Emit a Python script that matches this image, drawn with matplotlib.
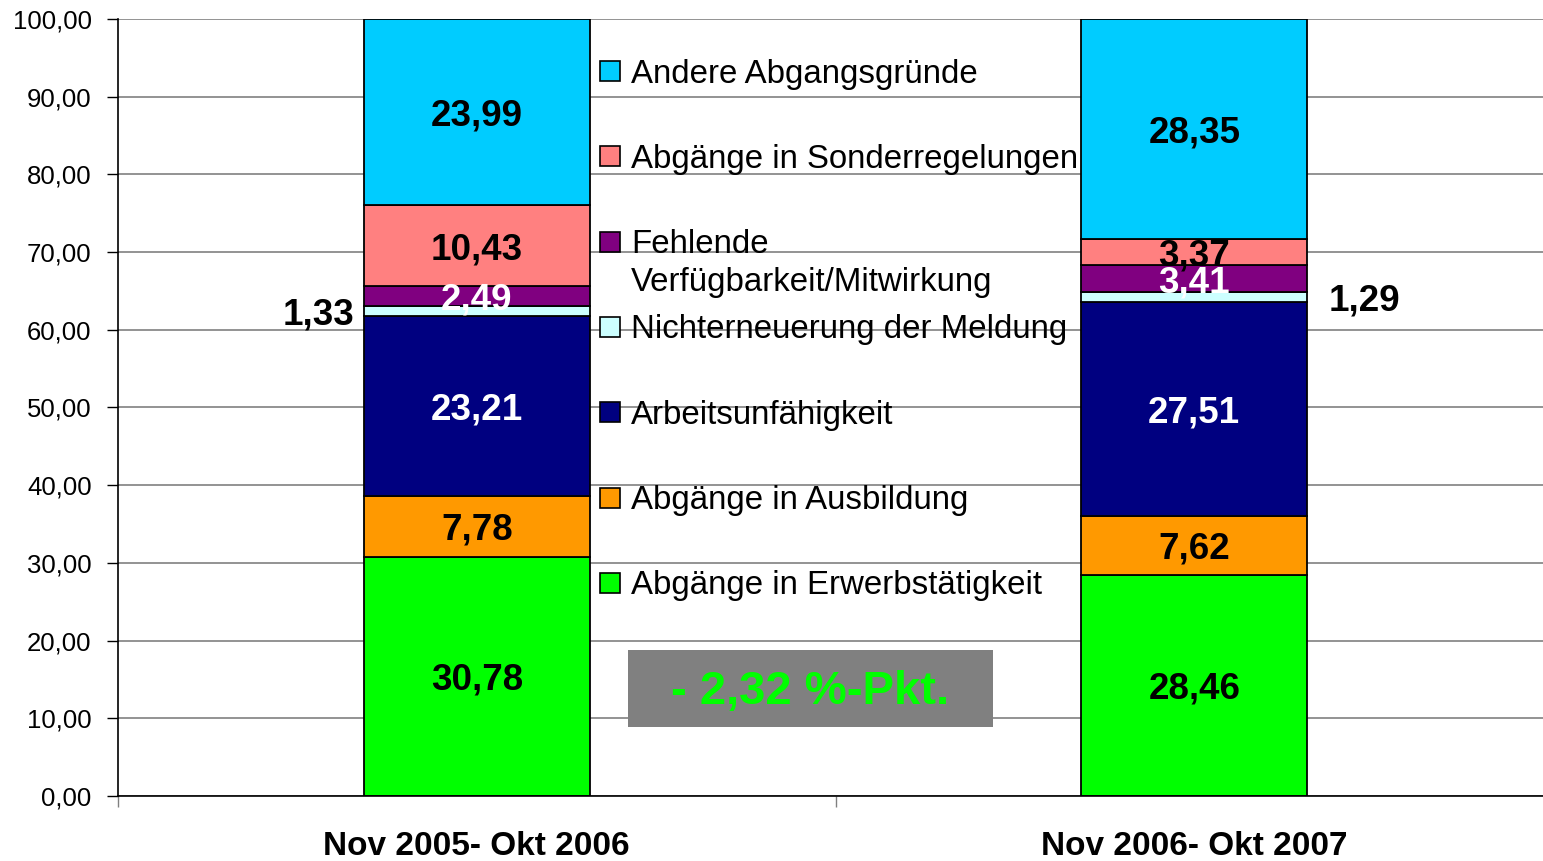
import numpy as np
import matplotlib.pyplot as plt
from matplotlib.patches import Rectangle
from matplotlib.ticker import FuncFormatter

plt.rcParams['font.family'] = ['Liberation Sans', 'DejaVu Sans']

periods = ['Nov 2005- Okt 2006', 'Nov 2006- Okt 2007']
reasons = ['Abgänge in Erwerbstätigkeit', 'Abgänge in Ausbildung', 'Arbeitsunfähigkeit',
           'Nichterneuerung der Meldung', 'Fehlende\nVerfügbarkeit/Mitwirkung',
           'Abgänge in Sonderregelungen', 'Andere Abgangsgründe']
share_2006 = [30.78, 7.78, 23.21, 1.33, 2.49, 10.43, 23.99]
share_2007 = [28.46, 7.62, 27.51, 1.29, 3.41, 3.37, 28.35]
colors = ['#00FF00', '#FF9900', '#000080', '#CCFFFF', '#800080', '#FF8080', '#00CCFF']
label_colors = ['black', 'black', 'white', 'black', 'white', 'black', 'black']
diff_text = '- 2,32 %-Pkt.'

W, H = 1543, 861
AX_W = 1435  # plot area runs a bit past the right edge of the picture
fig = plt.figure(figsize=(W / 100, H / 100), dpi=100)
ax = fig.add_axes([118 / W, 65 / H, AX_W / W, 777 / H])

x = np.arange(len(periods))
width = 0.315
data = np.array([share_2006, share_2007]).T
bottom = np.zeros(len(periods))
for i, reason in enumerate(reasons):
    vals = data[i]
    ax.bar(x, vals, width=width, bottom=bottom, color=colors[i],
           edgecolor='black', linewidth=1.3, zorder=2)
    for j in range(len(periods)):
        txt = ('%.2f' % vals[j]).replace('.', ',')
        yc = bottom[j] + vals[j] / 2 - 0.5
        if i == 3:
            # thin slice: label outside the bar
            if j == 0:
                ax.text(x[j] - width / 2 - 0.013, yc, txt, ha='right', va='center',
                        fontsize=26.5, fontweight='bold', color='black')
            else:
                ax.text(x[j] + width / 2 + 0.03, yc, txt, ha='left', va='center',
                        fontsize=26.5, fontweight='bold', color='black')
        else:
            ax.text(x[j], yc, txt, ha='center', va='center', fontsize=26.5,
                    fontweight='bold', color=label_colors[i], zorder=3)
    bottom = bottom + vals

ax.set_xlim(-0.5, 1.5)
ax.set_ylim(0, 100)
ax.set_yticks(np.arange(0, 101, 10))
ax.yaxis.set_major_formatter(FuncFormatter(lambda v, p: ('%.2f' % v).replace('.', ',')))
ax.tick_params(axis='y', direction='out', length=8, width=1, labelsize=18.5, pad=11)
ax.yaxis.grid(True, color='#808080', linewidth=1.2)
ax.set_axisbelow(True)

ax.set_xticks([-0.5, 0.5, 1.5])
ax.set_xticklabels(['', '', ''])
ax.tick_params(axis='x', which='major', direction='out', length=8, width=1, color='#808080')
ax.set_xticks(x, minor=True)
ax.set_xticklabels(periods, minor=True, fontsize=24, fontweight='bold',
                   family=['Liberation Sans Narrow', 'Liberation Sans'])
ax.tick_params(axis='x', which='minor', length=0, pad=25)

for s in ['top', 'right']:
    ax.spines[s].set_visible(False)
ax.spines['left'].set_linewidth(1.2)
ax.spines['bottom'].set_linewidth(1.2)

# legend drawn by hand, top entry = last series
leg_x, leg_y0, leg_step, line_gap = 600, 71, 85.3, 38
for k, i in enumerate(range(len(reasons) - 1, -1, -1)):
    yc = leg_y0 + k * leg_step
    fig.patches.append(Rectangle((leg_x / W, 1 - (yc + 10) / H), 20 / W, 20 / H,
                                 transform=fig.transFigure, facecolor=colors[i],
                                 edgecolor='black', linewidth=1.2))
    n_extra = reasons[i].count('\n')
    fig.text((leg_x + 31) / W, 1 - (yc + 11.5 + n_extra * line_gap) / H, reasons[i],
             ha='left', va='baseline', fontsize=23.8, linespacing=1.3)

# difference box
ax.add_patch(Rectangle((510 / AX_W, 69 / 777), 365 / AX_W, 77 / 777,
                       transform=ax.transAxes, facecolor='#808080', edgecolor='none', zorder=3))
ax.text(692.5 / AX_W, 104 / 777, diff_text, transform=ax.transAxes, ha='center',
        va='center', fontsize=34, fontweight='bold', color='#00FF00', zorder=4)

fig.savefig('out.png', dpi=100)
